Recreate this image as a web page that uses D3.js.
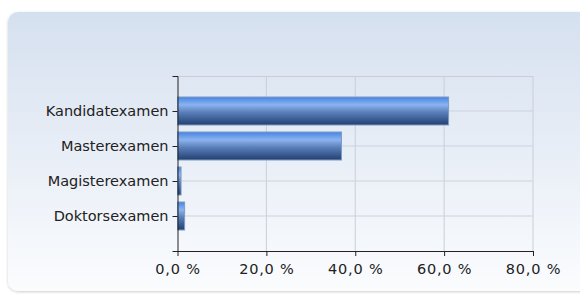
<!DOCTYPE html>
<html><head><meta charset="utf-8">
<script src="https://cdn.jsdelivr.net/npm/d3@7"></script>
<style>html,body{margin:0;padding:0;background:#fff;}svg{display:block;}</style>
</head><body>
<svg id="c" width="580" height="294"></svg>
<script>
const categories = ["Kandidatexamen", "Masterexamen", "Magisterexamen", "Doktorsexamen"];
const values = [61.0, 36.9, 0.8, 1.6];
const xTicks = [0, 20, 40, 60, 80];

(function () {
const svg = d3.select("#c");
const defs = svg.append("defs");
const FONT = "DejaVu Sans, Verdana, sans-serif";

const bg = defs.append("linearGradient").attr("id", "bg").attr("x1", 0).attr("y1", 0).attr("x2", 0).attr("y2", 1);
bg.append("stop").attr("offset", "0%").attr("stop-color", "#d5e0ef");
bg.append("stop").attr("offset", "100%").attr("stop-color", "#fbfcfe");

const bar = defs.append("linearGradient").attr("id", "bar").attr("x1", 0).attr("y1", 0).attr("x2", 0).attr("y2", 1);
[["0%", "#4a82dc"], ["10%", "#5e96ea"], ["28%", "#8cb3f0"], ["55%", "#5a7fb8"], ["85%", "#34558b"], ["100%", "#243f6c"]]
  .forEach(([o, c]) => bar.append("stop").attr("offset", o).attr("stop-color", c));

const sh = defs.append("filter").attr("id", "sh").attr("x", "-5%").attr("y", "-5%").attr("width", "110%").attr("height", "115%");
sh.append("feGaussianBlur").attr("in", "SourceAlpha").attr("stdDeviation", 1.5);
sh.append("feOffset").attr("dx", 0).attr("dy", 1).attr("result", "b");
sh.append("feComponentTransfer").append("feFuncA").attr("type", "linear").attr("slope", 0.2);
const m = sh.append("feMerge"); m.append("feMergeNode"); m.append("feMergeNode").attr("in", "SourceGraphic");

svg.append("rect").attr("x", 8).attr("y", 12).attr("width", 600).attr("height", 279)
  .attr("rx", 10).attr("fill", "url(#bg)").attr("filter", "url(#sh)");

const pl = 177.5, pr = 533, pt = 76, pb = 251;
const x = d3.scaleLinear().domain([0, 80]).range([pl, pr]);
const y = d3.scalePoint().domain(categories).range([pt, pb]).padding(1);

const g = svg.append("g");
g.selectAll(".vg").data(xTicks.slice(1)).join("line")
  .attr("x1", d => x(d)).attr("x2", d => x(d)).attr("y1", pt).attr("y2", pb)
  .attr("stroke", "#c9cfd9").attr("stroke-width", 1);
g.append("line").attr("x1", pl).attr("x2", pr).attr("y1", pt + 0.5).attr("y2", pt + 0.5).attr("stroke", "#c9cfd9");
g.selectAll(".hg").data(categories).join("line")
  .attr("x1", pl).attr("x2", pr).attr("y1", d => y(d)).attr("y2", d => y(d))
  .attr("stroke", "#cdd3dc").attr("stroke-width", 1);

const bh = 28;
g.selectAll(".bar").data(values).join("rect")
  .attr("x", pl).attr("y", (d, i) => y(categories[i]) - bh / 2)
  .attr("width", d => x(d) - pl).attr("height", bh)
  .attr("fill", "url(#bar)").attr("stroke", "#7f9cc4").attr("stroke-width", 1);

const xa = svg.append("g").attr("transform", `translate(0,${pb})`)
  .call(d3.axisBottom(x).tickValues(xTicks).tickSize(5).tickSizeOuter(0)
    .tickFormat(d => d3.format(".1f")(d).replace(".", ",") + " %"));
xa.select(".domain").attr("d", `M${pl - 5},0.5H${pr}`).attr("stroke", "#222");
xa.selectAll(".tick line").attr("stroke", "#222");
xa.selectAll("text").attr("font-family", FONT).attr("font-size", 14.5).attr("fill", "#222")
  .attr("letter-spacing", 0.8).attr("dy", "1.05em");

const ya = svg.append("g").attr("transform", `translate(${pl},0)`)
  .call(d3.axisLeft(y).tickSize(5).tickSizeOuter(5));
ya.select(".domain").attr("stroke", "#222").attr("d", `M-5,${pt + 0.5}H0.5V${pb}`);
ya.selectAll(".tick line").attr("stroke", "#222");
ya.selectAll("text").attr("font-family", FONT).attr("font-size", 14.5).attr("fill", "#222").attr("x", -9);
})();
</script>
</body></html>
